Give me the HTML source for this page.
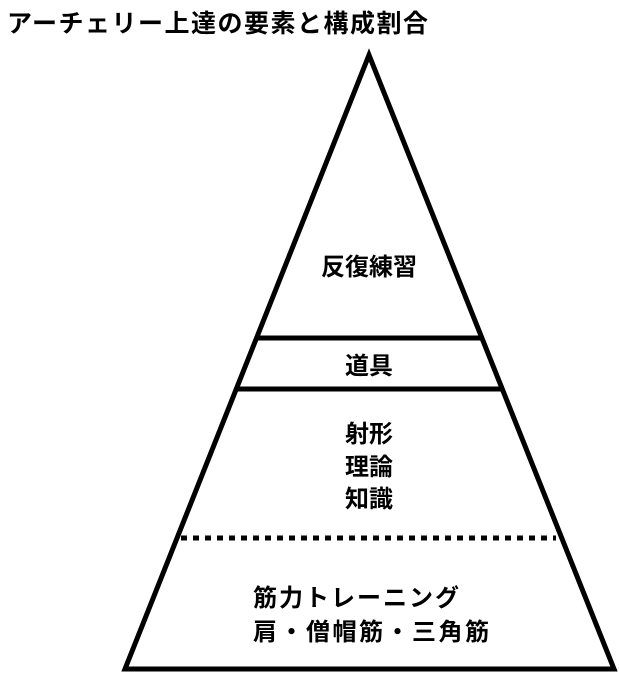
<!DOCTYPE html>
<html><head><meta charset="utf-8"><style>
body{margin:0;background:#fff;width:619px;height:676px;overflow:hidden}
svg text{font-family:"Liberation Sans","Noto Sans CJK JP",sans-serif;font-weight:bold;fill:#000}
</style></head><body>
<svg width="619" height="676" xmlns="http://www.w3.org/2000/svg">
<text x="7" y="32" font-size="25" letter-spacing="1.5">アーチェリー上達の要素と構成割合</text>
<polygon points="369,55 125,669 614,669" fill="none" stroke="#000" stroke-width="5" stroke-linejoin="miter"/>
<line x1="257" y1="338" x2="481" y2="338" stroke="#000" stroke-width="5"/>
<line x1="237" y1="389" x2="501" y2="389" stroke="#000" stroke-width="5"/>
<line x1="181" y1="538" x2="556" y2="538" stroke="#000" stroke-width="5" stroke-dasharray="6,6"/>
<g font-size="24" text-anchor="middle">
<text x="369" y="275">反復練習</text>
<text x="369" y="374">道具</text>
<text x="369" y="442">射形</text>
<text x="369" y="475">理論</text>
<text x="369" y="507">知識</text>
</g>
<g font-size="24">
<text x="253" y="606" letter-spacing="2">筋力トレーニング</text>
<text x="253" y="640" letter-spacing="2.5">肩・僧帽筋・三角筋</text>
</g>
</svg>
</body></html>
